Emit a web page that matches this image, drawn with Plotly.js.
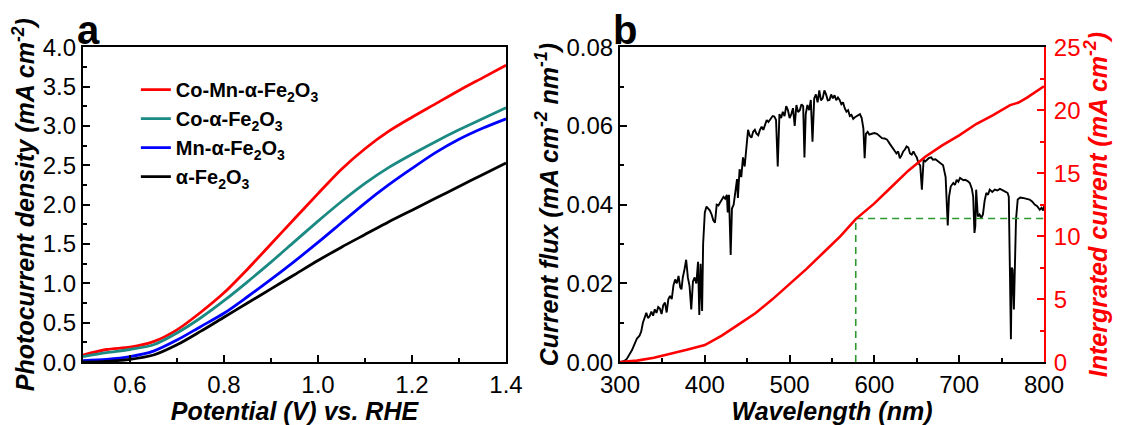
<!DOCTYPE html>
<html>
<head>
<meta charset="utf-8">
<script src="https://cdn.plot.ly/plotly-3.0.1.min.js"></script>
<style>html,body{margin:0;padding:0;background:#fff;}#chart{width:1121px;height:425px;}</style>
</head>
<body>
<div id="chart"></div>
<script>
// ---------- Panel a: photocurrent density vs potential ----------
const potential = [0.50,0.55,0.60,0.65,0.70,0.75,0.80,0.85,0.90,0.95,1.00,1.05,1.10,1.15,1.20,1.25,1.30,1.35,1.40];
const jCoMn = [0.09,0.16,0.19,0.26,0.41,0.63,0.88,1.18,1.50,1.82,2.14,2.45,2.71,2.93,3.11,3.28,3.45,3.61,3.77];
const jCo   = [0.07,0.12,0.16,0.22,0.37,0.56,0.78,1.02,1.27,1.53,1.79,2.04,2.27,2.47,2.64,2.80,2.95,3.09,3.23];
const jMn   = [0.02,0.035,0.07,0.14,0.28,0.45,0.62,0.83,1.05,1.28,1.52,1.77,2.02,2.25,2.46,2.66,2.83,2.97,3.09];
const jFe   = [0.00,0.01,0.035,0.09,0.22,0.39,0.57,0.75,0.93,1.11,1.29,1.46,1.62,1.78,1.93,2.08,2.23,2.38,2.53];
const seriesNames = ['Co-Mn-α-Fe<sub>2</sub>O<sub>3</sub>','Co-α-Fe<sub>2</sub>O<sub>3</sub>','Mn-α-Fe<sub>2</sub>O<sub>3</sub>','α-Fe<sub>2</sub>O<sub>3</sub>'];
const seriesColors = ['#ff0000','#1b8a82','#0000ff','#000000'];

// ---------- Panel b: current flux spectrum and integrated current ----------
const wavelength = [300,305,308,311,314,317,320,323,325,327,329,331,333,335,337,339,341,343,345,347,349,351,353,355,357,359,361,363,365,367,369,371,372.5,374,376,378,380,382,384,386,388,390,392,393.5,395,396.8,398,400,402,404,406,408,410,412,414,416,418,420,422,424,426,427,428.5,430.5,432,434,436,438,439,441,443,445,447,449,451,453,455,457,459,461,463,465,467,469,471,473,475,478,480,482,484,486,488,490,492,494,496,498,500,502,504,506,508,510,512,514,516,517.5,519,521,523,525,527,529,531,533,535,537,539,541,543,545,547,549,551,553,555,557,559,561,563,565,567,569,571,573,575,577,579,581,583,585,587,588.5,590,592,594,597,600,603,606,609,612,615,618,620,623,626,628,630,632,634,636,638,640,642,644,646,648,650,652,654,656,658,660,664,667,669,672,675,678,681,684,686.5,688,690,693,695,697,699,701,703,705,707,710,712.5,715,716.5,718,719,720,722,724,726,728,730,732,734,736,739,742,745,748,751,754,757,758.5,759.5,761,762,763,764.5,766,767,769,772,775,778,781,783,786,789,792,795,797,799,800];
const currentFlux = [0,0.0003,0.0008,0.0018,0.003,0.0045,0.006,0.0067,0.0078,0.010,0.0113,0.0125,0.0112,0.0117,0.0128,0.0118,0.0134,0.0125,0.0140,0.0136,0.0122,0.0145,0.0151,0.0126,0.0160,0.0168,0.0160,0.0195,0.021,0.0200,0.0219,0.0190,0.0185,0.0215,0.0235,0.0260,0.0215,0.0193,0.0134,0.0205,0.0215,0.0200,0.0255,0.0120,0.0250,0.0130,0.0300,0.0380,0.0395,0.0390,0.0385,0.0375,0.0360,0.0354,0.0400,0.0398,0.0405,0.0410,0.0420,0.0415,0.0425,0.0380,0.0425,0.0272,0.0390,0.0400,0.0440,0.0465,0.0417,0.0490,0.0470,0.0520,0.0497,0.0548,0.0590,0.0575,0.0570,0.0585,0.0590,0.0580,0.0576,0.0590,0.0598,0.0590,0.0605,0.0615,0.0610,0.0620,0.0625,0.0624,0.0615,0.0497,0.0630,0.0620,0.0636,0.0625,0.0650,0.0640,0.0620,0.0630,0.0645,0.0600,0.0653,0.0635,0.0640,0.0655,0.0650,0.0520,0.0630,0.0653,0.0640,0.0666,0.0560,0.0670,0.0680,0.0660,0.0690,0.0665,0.0670,0.0690,0.0680,0.0665,0.0666,0.0680,0.0670,0.0678,0.0665,0.0672,0.0666,0.0655,0.0660,0.0645,0.0636,0.0640,0.0625,0.0628,0.0618,0.0622,0.0624,0.0628,0.0630,0.0620,0.0594,0.0518,0.0580,0.0585,0.0578,0.0580,0.0582,0.0580,0.0575,0.0569,0.0568,0.0565,0.0555,0.0548,0.0540,0.0530,0.0535,0.0518,0.0525,0.0535,0.0540,0.0548,0.0545,0.0530,0.0527,0.0535,0.0527,0.0520,0.0505,0.0500,0.0438,0.0514,0.0510,0.0518,0.0520,0.0514,0.0515,0.0510,0.0505,0.0500,0.0470,0.0347,0.0420,0.0446,0.0455,0.0450,0.0463,0.0458,0.0468,0.0465,0.0462,0.0463,0.0460,0.0455,0.0440,0.0420,0.0328,0.0345,0.0438,0.0370,0.0375,0.0366,0.0375,0.0410,0.0430,0.0425,0.0438,0.0432,0.0438,0.0436,0.0440,0.0437,0.0434,0.0430,0.0420,0.0244,0.0058,0.0240,0.0235,0.0134,0.0280,0.0362,0.0413,0.0418,0.0417,0.0416,0.0414,0.0413,0.0408,0.0400,0.0396,0.0387,0.0392,0.0385,0.0396];
const intWavelength = [300,320,340,360,380,400,420,440,460,480,500,520,540,560,578,600,620,640,660,680,700,720,740,760,770,780,800];
const intCurrent    = [0,0.12,0.35,0.65,1.0,1.35,2.1,3.0,3.9,5.0,6.2,7.4,8.7,10.0,11.35,12.6,13.9,15.2,16.3,17.2,18.0,18.9,19.6,20.4,20.6,21.0,21.9];
const markWavelength = 578;
const markCurrent = 11.4;
const markEnd = 800;

const FONT = '"Liberation Sans", Arial, Helvetica, sans-serif';
const tickFont = {family: FONT, size: 24, color: '#000'};
const titleFont = (c) => ({family: FONT, size: 25, color: c || '#000', weight: 'bold', style: 'italic'});

function axisBase(color) {
  color = color || '#000';
  return {
    showline: true, linecolor: color, linewidth: 2,
    ticks: 'inside', ticklen: 7, tickwidth: 2, tickcolor: color,
    showgrid: false, zeroline: false, automargin: false,
    tickfont: Object.assign({}, tickFont, {color: color}),
    minor: {ticks: 'inside', ticklen: 4, tickwidth: 2, tickcolor: color, showgrid: false}
  };
}

const yDom = [0.148, 0.889];
const traces = [];
const ys = [jCoMn, jCo, jMn, jFe];
for (let i = 0; i < 4; i++) {
  traces.push({
    x: potential, y: ys[i], type: 'scatter', mode: 'lines',
    line: {color: seriesColors[i], width: 2.8, shape: 'spline', smoothing: 0.8},
    name: seriesNames[i], xaxis: 'x', yaxis: 'y', legendgroup: 'g' + i
  });
}
traces.push({
  x: wavelength, y: currentFlux, type: 'scatter', mode: 'lines',
  line: {color: '#000', width: 1.9}, xaxis: 'x2', yaxis: 'y2', showlegend: false
});
traces.push({
  x: [markWavelength, markWavelength, markEnd], y: [0, markCurrent, markCurrent], type: 'scatter', mode: 'lines',
  line: {color: '#2e9a2e', width: 1.6, dash: '7px,5px'}, xaxis: 'x2', yaxis: 'y3', showlegend: false
});
traces.push({
  x: intWavelength, y: intCurrent, type: 'scatter', mode: 'lines',
  line: {color: '#ff0000', width: 2.6}, xaxis: 'x2', yaxis: 'y3', showlegend: false
});

const layout = {
  width: 1121, height: 425,
  margin: {l: 0, r: 0, t: 0, b: 0},
  paper_bgcolor: '#fff', plot_bgcolor: '#fff',
  showlegend: true,
  legend: {
    x: 0.1212, y: 0.835, xanchor: 'left', yanchor: 'top',
    bgcolor: 'rgba(0,0,0,0)', borderwidth: 0,
    font: {family: FONT, size: 20, color: '#000', weight: 'bold'},
    traceorder: 'grouped', tracegroupgap: 0
  },
  xaxis: Object.assign(axisBase(), {
    domain: [0.074, 0.4514], range: [0.5, 1.4], anchor: 'y', mirror: true,
    tick0: 0, dtick: 0.2, tickformat: '.1f',
    title: {text: 'Potential (V) vs. RHE', font: titleFont(), standoff: 0}
  }),
  yaxis: Object.assign(axisBase(), {
    domain: yDom, range: [0, 4], anchor: 'x', mirror: true,
    tick0: 0, dtick: 0.5, tickformat: '.1f',
    title: {text: 'Photocurrent density (mA cm<sup>-2</sup>)', font: titleFont(), standoff: 1}
  }),
  xaxis2: Object.assign(axisBase(), {
    domain: [0.5531, 0.9313], range: [300, 800], anchor: 'y2', mirror: true,
    tick0: 0, dtick: 100,
    title: {text: 'Wavelength (nm)', font: titleFont(), standoff: 0}
  }),
  yaxis2: Object.assign(axisBase(), {
    domain: yDom, range: [0, 0.08], anchor: 'x2',
    tick0: 0, dtick: 0.02, tickformat: '.2f',
    title: {text: 'Current flux (mA cm<sup>-2</sup> nm<sup>-1</sup>)', font: titleFont(), standoff: 1}
  }),
  yaxis3: Object.assign(axisBase('#ff0000'), {
    domain: yDom, range: [0, 25], anchor: 'x2', overlaying: 'y2', side: 'right',
    tick0: 0, dtick: 5, ticklabelstandoff: 3,
    title: {text: 'Intergrated current (mA cm<sup>-2</sup>)', font: titleFont('#ff0000'), standoff: 10}
  }),
  annotations: [
    {text: '<b>a</b>', xref: 'paper', yref: 'paper', x: 75/1121, y: (425-30)/425, xanchor: 'left', yanchor: 'middle',
     showarrow: false, font: {family: FONT, size: 40, color: '#000'}},
    {text: '<b>b</b>', xref: 'paper', yref: 'paper', x: 611/1121, y: (425-30)/425, xanchor: 'left', yanchor: 'middle',
     showarrow: false, font: {family: FONT, size: 40, color: '#000'}}
  ]
};
layout.xaxis.minor.dtick = 0.1;
layout.yaxis.minor.dtick = 0.25;
layout.xaxis2.minor.dtick = 50;
layout.yaxis2.minor.dtick = 0.01;
layout.yaxis3.minor.dtick = 2.5;

Plotly.newPlot('chart', traces, layout, {displayModeBar: false, staticPlot: true});
</script>
</body>
</html>
